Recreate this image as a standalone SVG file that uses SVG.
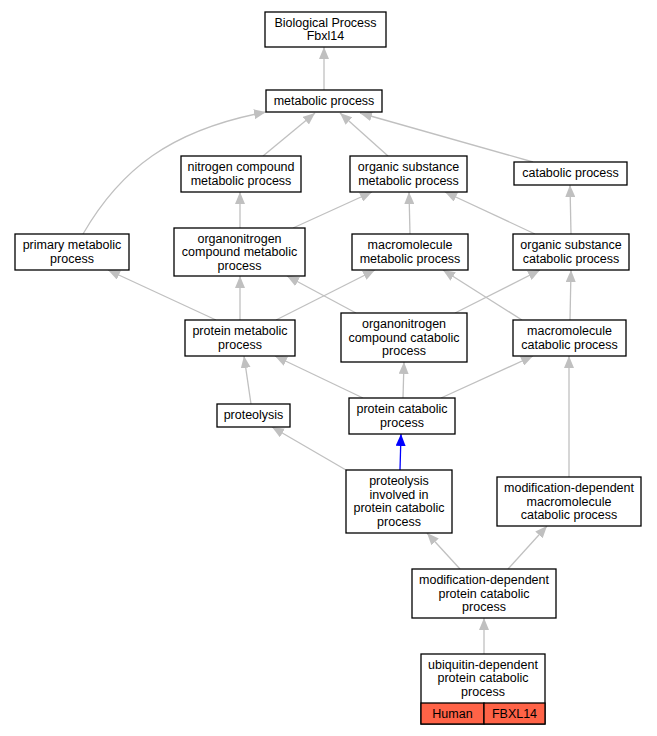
<svg xmlns="http://www.w3.org/2000/svg" width="657" height="736" viewBox="0 0 657 736">
<style>
.n rect{fill:#fff;stroke:#000;stroke-width:1.3}
text{font-family:"Liberation Sans",Arial,sans-serif;font-size:12.5px;fill:#000;text-anchor:middle}
.e path{fill:none;stroke:#c0c0c0;stroke-width:1.3;marker-end:url(#ag)}
.e path.b{stroke:#0000ff;marker-end:url(#ab)}
.n rect.c{fill:#ff6347}
</style>
<defs>
<marker id="ag" viewBox="0 0 12 10" refX="12" refY="5" markerWidth="12" markerHeight="10" markerUnits="userSpaceOnUse" orient="auto"><path d="M0,0L12,5L0,10z" fill="#c0c0c0"/></marker>
<marker id="ab" viewBox="0 0 12 10" refX="12" refY="5" markerWidth="12" markerHeight="10" markerUnits="userSpaceOnUse" orient="auto"><path d="M0,0L12,5L0,10z" fill="#0000ff"/></marker>
</defs>
<rect width="657" height="736" fill="#fff"/>
<g id="edges" class="e">
<path d="M324,90L324,47"/>
<path d="M263,156L315,113"/>
<path d="M388,156L340,113"/>
<path d="M533,162L360,113"/>
<path d="M83,234C120,170 170,130 266,112"/>
<path d="M240,228L240,192"/>
<path d="M293,228L372,192"/>
<path d="M410,234L409,192"/>
<path d="M535,234L445,192"/>
<path d="M571,234L570,185"/>
<path d="M216,320L108,270"/>
<path d="M240,320L240,276"/>
<path d="M276,320L375,270"/>
<path d="M356,313L287,276"/>
<path d="M455,313L540,270"/>
<path d="M522,320L443,270"/>
<path d="M570,320L571,270"/>
<path d="M251,404L244,356"/>
<path d="M363,398L275,356"/>
<path d="M403,398L404,362"/>
<path d="M441,398L533,356"/>
<path d="M346,470L272,427"/>
<path class="b" d="M400,470L401,434"/>
<path d="M569,477L569,356"/>
<path d="M460,569L427,533"/>
<path d="M508,569L547,526"/>
<path d="M484,654L484,618"/>
</g>
<g id="n1" class="n"><rect x="265" y="12" width="121" height="35"/><text x="325.5" y="26.5">Biological Process</text><text x="325.5" y="40">Fbxl14</text></g>
<g id="n2" class="n"><rect x="266" y="90" width="116" height="22"/><text x="324" y="105">metabolic process</text></g>
<g id="n3" class="n"><rect x="181" y="156" width="120" height="36"/><text x="241" y="171">nitrogen compound</text><text x="241" y="184.5">metabolic process</text></g>
<g id="n4" class="n"><rect x="350" y="156" width="117" height="36"/><text x="408.5" y="171">organic substance</text><text x="408.5" y="184.5">metabolic process</text></g>
<g id="n5" class="n"><rect x="514" y="162" width="113" height="23"/><text x="570.5" y="177">catabolic process</text></g>
<g id="n6" class="n"><rect x="15" y="234" width="114" height="36"/><text x="72" y="249">primary metabolic</text><text x="72" y="262.5">process</text></g>
<g id="n7" class="n"><rect x="174" y="228" width="131" height="48"/><text x="239.5" y="242.5">organonitrogen</text><text x="239.5" y="256">compound metabolic</text><text x="239.5" y="269.5">process</text></g>
<g id="n8" class="n"><rect x="352" y="234" width="116" height="36"/><text x="410" y="249">macromolecule</text><text x="410" y="262.5">metabolic process</text></g>
<g id="n9" class="n"><rect x="513" y="234" width="116" height="36"/><text x="571" y="249">organic substance</text><text x="571" y="262.5">catabolic process</text></g>
<g id="n10" class="n"><rect x="185" y="320" width="110" height="36"/><text x="240" y="335">protein metabolic</text><text x="240" y="348.5">process</text></g>
<g id="n11" class="n"><rect x="341" y="313" width="126" height="49"/><text x="404" y="328">organonitrogen</text><text x="404" y="341.5">compound catabolic</text><text x="404" y="355">process</text></g>
<g id="n12" class="n"><rect x="513" y="320" width="113" height="36"/><text x="569.5" y="335">macromolecule</text><text x="569.5" y="348.5">catabolic process</text></g>
<g id="n13" class="n"><rect x="217" y="404" width="73" height="23"/><text x="253.5" y="419">proteolysis</text></g>
<g id="n14" class="n"><rect x="349" y="398" width="106" height="36"/><text x="402" y="413">protein catabolic</text><text x="402" y="426.5">process</text></g>
<g id="n15" class="n"><rect x="346" y="470" width="106" height="63"/><text x="399" y="485">proteolysis</text><text x="399" y="498.5">involved in</text><text x="399" y="512">protein catabolic</text><text x="399" y="525.5">process</text></g>
<g id="n16" class="n"><rect x="497" y="477" width="144" height="49"/><text x="569" y="492">modification-dependent</text><text x="569" y="505.5">macromolecule</text><text x="569" y="519">catabolic process</text></g>
<g id="n17" class="n"><rect x="412" y="569" width="144" height="49"/><text x="484" y="584">modification-dependent</text><text x="484" y="597.5">protein catabolic</text><text x="484" y="611">process</text></g>
<g id="n18" class="n"><rect x="421" y="654" width="124" height="70"/><text x="483" y="668.5">ubiquitin-dependent</text><text x="483" y="682">protein catabolic</text><text x="483" y="695.5">process</text>
<rect class="c" x="421" y="703" width="63" height="21"/><rect class="c" x="484" y="703" width="61" height="21"/><text x="452.5" y="718">Human</text><text x="514.5" y="718">FBXL14</text></g>
</svg>
